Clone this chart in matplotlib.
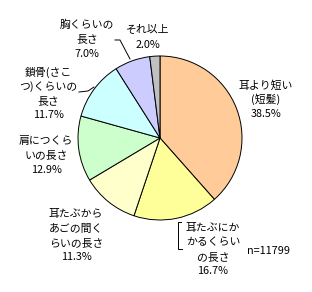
import matplotlib
matplotlib.use("Agg")
import matplotlib.pyplot as plt

plt.rcParams['font.family'] = ['Noto Sans CJK JP', 'DejaVu Sans']

# ---------- data ----------
labels = ["耳より短い\n(短髪)", "耳たぶにか\nかるくらい\nの長さ", "耳たぶから\nあごの間く\nらいの長さ",
          "肩につくら\nいの長さ", "鎖骨(さこ\nつ)くらいの\n長さ", "胸くらいの\n長さ", "それ以上"]
shares = [38.5, 16.7, 11.3, 12.9, 11.7, 7.0, 2.0]
colors = ["#FFCC99", "#FFFF99", "#FFFFCC", "#CCFFCC", "#CCFFFF", "#CCCCFF", "#C0C0C0"]
n_text = "n=11799"

W, H = 312, 292
fig = plt.figure(figsize=(W / 100, H / 100), dpi=100)
ax = fig.add_axes([0, 0, 1, 1])

# pie centre / radius in pixel space (y measured from the top of the picture)
cx, cy, r = 160, 138, 82
ax.pie(shares, colors=colors, startangle=90, counterclock=False,
       center=(cx, H - cy), radius=r,
       wedgeprops=dict(edgecolor="black", linewidth=0.7))
ax.set_xlim(0, W)
ax.set_ylim(0, H)
ax.set_aspect("equal")
ax.axis("off")

# label anchor points (pixel x, pixel y of the first line)
label_pos = [(266, 85), (213, 228), (76, 214), (46, 141), (48, 72), (87, 25), (148, 30)]
for lab, val, (x, y) in zip(labels, shares, label_pos):
    lines = lab.split("\n") + [f"{val:.1f}%"]
    for i, ln in enumerate(lines):
        ax.text(x, H - (y + i * 14.5), ln, ha="center", va="center", fontsize=7.8)

ax.text(268, H - 251, n_text, ha="center", va="center", fontsize=7.8)

# leader lines
def seg(xs, ys):
    ax.plot(xs, [H - v for v in ys], color="black", lw=0.7)

seg([181, 177.5, 177.5, 182], [222, 222, 249, 249])
seg([115, 120, 130], [40, 40, 59])
seg([79, 88, 94], [92, 91, 87])

fig.savefig("out.png", dpi=100)
